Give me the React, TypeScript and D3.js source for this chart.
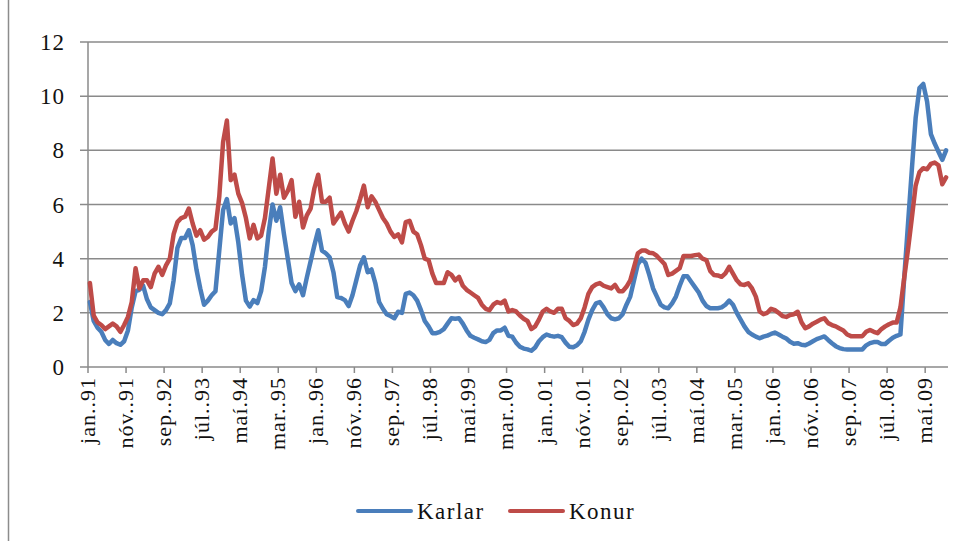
import * as d3 from 'd3';
import React, { useEffect, useRef } from 'react';

// mánaðarlegt atvinnuleysi, jan 1991 - okt 2009
const monthCount = 226;

const tickLabels = [
  'jan..91', 'nóv..91', 'sep..92', 'júl..93', 'maí.94', 'mar..95', 'jan..96', 'nóv..96',
  'sep..97', 'júl..98', 'maí.99', 'mar..00', 'jan..01', 'nóv..01', 'sep..02', 'júl..03',
  'maí.04', 'mar..05', 'jan..06', 'nóv..06', 'sep..07', 'júl..08', 'maí.09',
];

const karlar = [
  2.4, 1.7, 1.45, 1.3, 1.0, 0.85, 1.0, 0.88, 0.82, 0.95, 1.35, 2.2,
  2.8, 2.85, 3.0, 2.5, 2.2, 2.1, 2.0, 1.95, 2.1, 2.35, 3.2, 4.4,
  4.76, 4.76, 5.05, 4.5, 3.6, 2.9, 2.3, 2.45, 2.65, 2.8, 4.3, 5.8,
  6.2, 5.3, 5.5, 4.6, 3.4, 2.45, 2.23, 2.47, 2.36, 2.8, 3.7, 5.0,
  6.0, 5.4, 5.9, 4.9, 4.0, 3.1, 2.8, 3.05, 2.65, 3.3, 3.9, 4.5,
  5.05, 4.3, 4.2, 4.05, 3.5, 2.58, 2.55, 2.47, 2.25, 2.65, 3.2, 3.75,
  4.05, 3.5, 3.6, 3.1, 2.4, 2.15, 1.95, 1.88, 1.8, 2.04, 2.0, 2.7,
  2.75, 2.65, 2.45, 2.1, 1.7, 1.5, 1.25, 1.25, 1.3, 1.4, 1.6, 1.8,
  1.78, 1.8, 1.6, 1.35, 1.15, 1.08, 1.02, 0.95, 0.92, 1.0, 1.25, 1.35,
  1.35, 1.45, 1.15, 1.12, 0.9, 0.75, 0.68, 0.65, 0.6, 0.72, 0.95, 1.1,
  1.2, 1.15, 1.12, 1.15, 1.1, 0.9, 0.75, 0.73, 0.8, 0.95, 1.3, 1.75,
  2.1, 2.35, 2.4, 2.2, 1.95, 1.8, 1.76, 1.8, 1.95, 2.3, 2.6, 3.2,
  3.8, 4.0, 3.85, 3.4, 2.9, 2.6, 2.3, 2.2, 2.17, 2.35, 2.6, 3.0,
  3.35, 3.35, 3.15, 2.95, 2.75, 2.45, 2.25, 2.17, 2.17, 2.17, 2.2, 2.3,
  2.45, 2.3, 2.0, 1.75, 1.5, 1.3, 1.2, 1.12, 1.06, 1.12, 1.16, 1.22,
  1.27, 1.2, 1.12, 1.05, 0.93, 0.86, 0.88, 0.82, 0.8, 0.87, 0.95, 1.03,
  1.08, 1.13, 1.0, 0.88, 0.77, 0.7, 0.66, 0.65, 0.65, 0.65, 0.65, 0.65,
  0.8, 0.88, 0.92, 0.92, 0.85, 0.85, 0.97, 1.08, 1.15, 1.2, 3.3, 5.3,
  7.3, 9.2, 10.3, 10.45, 9.8, 8.6, 8.25, 7.95, 7.65, 8.0,
];

const konur = [
  3.1, 1.9, 1.65, 1.55, 1.4, 1.5, 1.6, 1.5, 1.3, 1.55, 1.85, 2.4,
  3.65, 2.9, 3.2, 3.2, 2.95, 3.45, 3.7, 3.4, 3.75, 4.0, 4.9, 5.35,
  5.5, 5.55, 5.85, 5.3, 4.85, 5.05, 4.7, 4.8, 5.0, 5.1, 6.3, 8.3,
  9.1, 6.9, 7.1, 6.4, 6.05, 5.5, 4.75, 5.25, 4.75, 4.85, 5.5, 6.6,
  7.7, 6.4, 7.1, 6.25, 6.5, 6.9, 5.55, 6.1, 5.15, 5.6, 5.85, 6.6,
  7.1, 6.1, 6.1, 6.25, 5.3, 5.5, 5.7, 5.3, 5.0, 5.4, 5.75, 6.2,
  6.7, 5.9, 6.3, 6.1, 5.8, 5.5, 5.3, 5.0, 4.8, 4.9, 4.6, 5.35,
  5.4, 5.0, 4.9, 4.5, 4.0, 3.95, 3.45, 3.1, 3.1, 3.1, 3.5, 3.4,
  3.2, 3.33, 3.0, 2.85, 2.75, 2.65, 2.55, 2.3, 2.15, 2.1, 2.3, 2.4,
  2.35, 2.45, 2.05, 2.1, 2.05, 1.9, 1.78, 1.7, 1.4, 1.5, 1.75, 2.05,
  2.15, 2.05, 2.0, 2.15, 2.15, 1.8, 1.7, 1.55, 1.6, 1.8, 2.2, 2.7,
  2.95, 3.05, 3.1, 3.0, 2.95, 2.9, 3.03, 2.8, 2.8, 2.96, 3.2, 3.7,
  4.2, 4.3, 4.3, 4.22, 4.2, 4.1, 3.95, 3.8, 3.4, 3.45, 3.55, 3.65,
  4.1, 4.1, 4.1, 4.13, 4.15, 4.0, 3.95, 3.55, 3.4, 3.38, 3.33, 3.46,
  3.7, 3.45, 3.2, 3.05, 3.03, 3.09, 2.9, 2.6, 2.05, 1.95, 2.0, 2.15,
  2.1, 2.0, 1.88, 1.85, 1.92, 1.95, 2.04, 1.65, 1.43, 1.5, 1.6, 1.67,
  1.75, 1.8, 1.62, 1.55, 1.5, 1.42, 1.35, 1.2, 1.14, 1.14, 1.14, 1.14,
  1.3, 1.37, 1.3, 1.25, 1.4, 1.5, 1.58, 1.64, 1.64, 2.2, 3.3, 4.35,
  5.5, 6.7, 7.2, 7.34, 7.3, 7.5, 7.55, 7.45, 6.75, 7.0,
];

const yTicks = [0, 2, 4, 6, 8, 10, 12];

const series = [
  { name: 'Karlar', values: karlar, color: '#4a7ebb' },
  { name: 'Konur', values: konur, color: '#be4b48' },
];

const FONT = '"Liberation Serif", "Times New Roman", serif';

function App() {
  const ref = useRef(null);

  useEffect(() => {
    document.body.style.margin = '0';
    const svg = d3.select(ref.current);
    svg.selectAll('*').remove();

    const left = 88, right = 948, top = 42, bottom = 367;
    const x = d3.scaleLinear().domain([0, monthCount]).range([left, right]);
    const y = d3.scaleLinear().domain([0, 12]).range([bottom, top]);

    svg.append('rect').attr('width', 967).attr('height', 541).attr('fill', 'white');
    // vinstri rammi
    svg.append('line').attr('x1', 8.5).attr('x2', 8.5).attr('y1', 0).attr('y2', 541)
      .attr('stroke', '#8c8c8c').attr('stroke-width', 1.5);

    // gridlínur og y-ás
    const grid = svg.append('g');
    yTicks.forEach(t => {
      grid.append('line')
        .attr('x1', left - 8).attr('x2', right)
        .attr('y1', y(t)).attr('y2', y(t))
        .attr('stroke', '#8a8a8a').attr('stroke-width', 1.5);
      grid.append('text')
        .attr('x', 65).attr('y', y(t))
        .attr('dy', '0.35em')
        .attr('text-anchor', 'end')
        .style('font-family', FONT).style('font-size', '23px').style('letter-spacing', '1px')
        .attr('fill', '#111')
        .text(t);
    });
    grid.append('line').attr('x1', left).attr('x2', left).attr('y1', top).attr('y2', bottom)
      .attr('stroke', '#8a8a8a').attr('stroke-width', 1.5);

    // x-ás
    const xa = svg.append('g');
    tickLabels.forEach((lab, k) => {
      const i = k * 10;
      xa.append('line')
        .attr('x1', x(i)).attr('x2', x(i)).attr('y1', bottom).attr('y2', bottom + 6)
        .attr('stroke', '#8a8a8a').attr('stroke-width', 1.5);
      xa.append('text')
        .attr('transform', `translate(${x(i + 0.5) + 5},${bottom + 10}) rotate(-90)`)
        .attr('text-anchor', 'end')
        .style('font-family', FONT).style('font-size', '22px').style('letter-spacing', '1px')
        .attr('fill', '#111')
        .text(lab);
    });

    const line = d3.line<number>()
      .x((d, i) => x(i + 0.5))
      .y(d => y(d));

    series.forEach(s => {
      svg.append('path')
        .datum(s.values.slice(0, monthCount))
        .attr('d', line)
        .attr('fill', 'none')
        .attr('stroke', s.color)
        .attr('stroke-width', 4.5)
        .attr('stroke-linejoin', 'round')
        .attr('stroke-linecap', 'round');
    });

    // skýringar
    const legend = svg.append('g');
    const legendX = [358, 510];
    series.forEach((s, k) => {
      legend.append('line')
        .attr('x1', legendX[k]).attr('x2', legendX[k] + 53)
        .attr('y1', 511).attr('y2', 511)
        .attr('stroke', s.color).attr('stroke-width', 4).attr('stroke-linecap', 'round');
      legend.append('text')
        .attr('x', legendX[k] + 59).attr('y', 511).attr('dy', '0.35em')
        .style('font-family', FONT).style('font-size', '23px').style('letter-spacing', '1.5px')
        .attr('fill', '#111')
        .text(s.name);
    });
  }, []);

  return <svg ref={ref} width={967} height={541} style={{ display: 'block' }}></svg>;
}

export default App;
